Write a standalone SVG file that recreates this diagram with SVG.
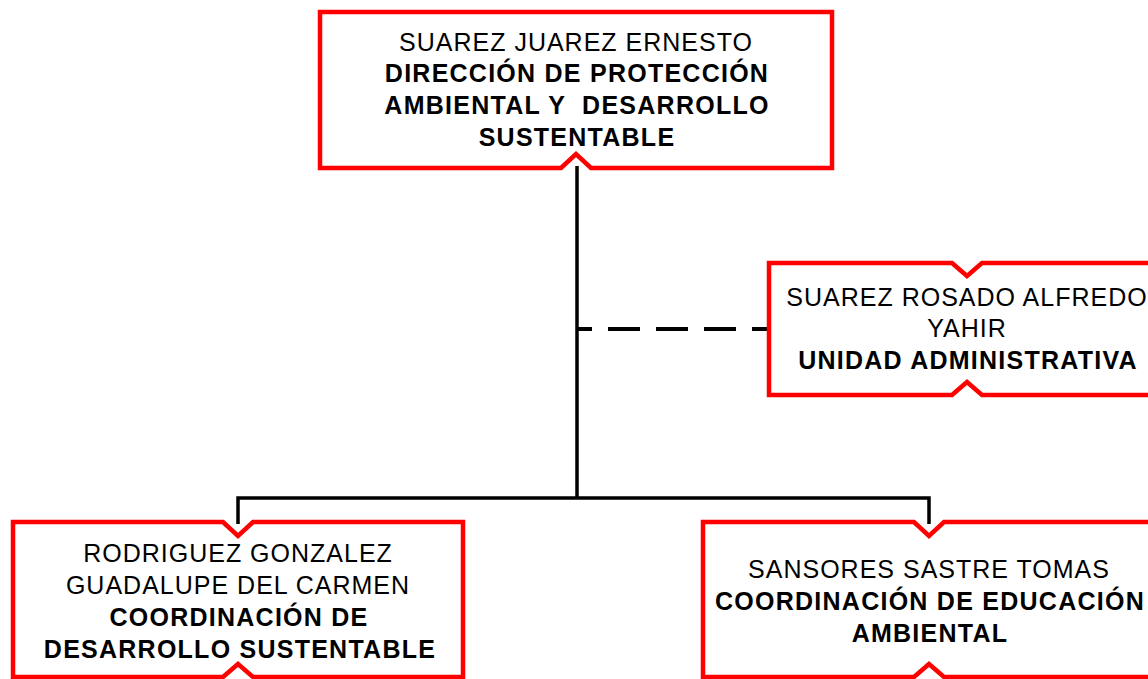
<svg xmlns="http://www.w3.org/2000/svg" width="1148" height="679" viewBox="0 0 1148 679">
<style>
.box{fill:#ffffff;stroke:#ff0000;stroke-width:4.5;stroke-linejoin:miter}
.ln{fill:none;stroke:#000000;stroke-width:3.5}
.dash{fill:none;stroke:#000000;stroke-width:4;stroke-dasharray:32 16;stroke-dashoffset:17}
text{font-family:"Liberation Sans",Arial,sans-serif;font-size:25px;letter-spacing:1px;text-anchor:middle;fill:#000000}
.b{font-weight:bold;letter-spacing:1.25px}
</style>
<rect width="1148" height="679" fill="#ffffff"/>
<g id="connectors">
<line class="ln" x1="577" y1="166" x2="577" y2="498"/>
<polyline class="ln" points="238,524 238,498 929,498 929,524"/>
<line class="dash" x1="577" y1="329" x2="769" y2="329"/>
</g>
<g id="node-direccion">
<path class="box" d="M320,12 H832 V168 H591 L576,154 L561,168 H320 Z"/>
<text x="576" y="51">SUAREZ JUAREZ ERNESTO</text>
<text class="b" x="577" y="82">DIRECCIÓN DE PROTECCIÓN</text>
<text class="b" x="577" y="114" xml:space="preserve">AMBIENTAL Y  DESARROLLO</text>
<text class="b" x="577" y="146">SUSTENTABLE</text>
</g>
<g id="node-unidad">
<path class="box" d="M769,263 H952 L967,276 L982,263 H1166 V395 H982 L967,382 L952,395 H769 Z"/>
<text x="967" y="306">SUAREZ ROSADO ALFREDO</text>
<text x="967" y="337">YAHIR</text>
<text class="b" x="968" y="369">UNIDAD ADMINISTRATIVA</text>
</g>
<g id="node-desarrollo">
<path class="box" d="M13,522 H223 L238,536 L253,522 H463 V677 H253 L238,664 L223,677 H13 Z"/>
<text x="238" y="562">RODRIGUEZ GONZALEZ</text>
<text x="238" y="594">GUADALUPE DEL CARMEN</text>
<text class="b" x="239" y="626">COORDINACIÓN DE</text>
<text class="b" x="240" y="658">DESARROLLO SUSTENTABLE</text>
</g>
<g id="node-educacion">
<path class="box" d="M703,522 H914 L929,536 L944,522 H1156 V677 H944 L929,664 L914,677 H703 Z"/>
<text x="929" y="578">SANSORES SASTRE TOMAS</text>
<text class="b" x="930" y="610">COORDINACIÓN DE EDUCACIÓN</text>
<text class="b" x="930" y="642">AMBIENTAL</text>
</g>
</svg>
